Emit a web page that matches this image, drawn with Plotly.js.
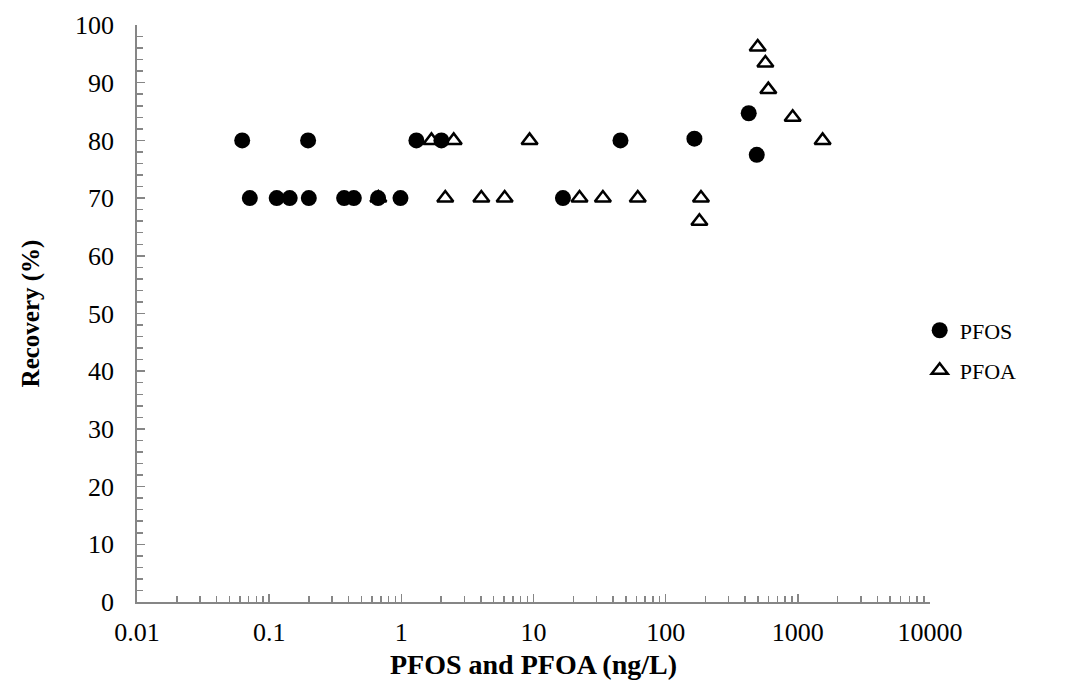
<!DOCTYPE html>
<html>
<head>
<meta charset="utf-8">
<script src="https://cdn.plot.ly/plotly-3.0.1.min.js"></script>
<style>html,body{margin:0;padding:0;background:#fff;}#chart{width:1077px;height:683px;}</style>
</head>
<body>
<div id="chart"></div>
<script>
// PFOS (filled circles)
const pfosConc = [0.0625, 0.197, 1.30, 2.01, 0.0714, 0.114, 0.143, 0.1995, 0.369, 0.437, 0.667, 0.985, 16.7, 45.5, 165, 425, 489];
const pfosRecovery = [80, 80, 80, 80, 70, 70, 70, 70, 70, 70, 70, 70, 70, 80, 80.3, 84.7, 77.5];
// PFOA (open triangles)
const pfoaConc = [1.69, 2.49, 9.34, 0.67, 2.15, 4.03, 6.05, 22.3, 33.5, 61.5, 185, 180, 497, 568, 598, 914, 1540];
const pfoaRecovery = [80, 80, 80, 70, 70, 70, 70, 70, 70, 70, 70, 66, 96.2, 93.4, 88.8, 84.0, 80];
const xTickVals = [0.01, 0.1, 1, 10, 100, 1000, 10000];
const xTickText = ["0.01", "0.1", "1", "10", "100", "1000", "10000"];
const yTickVals = [0, 10, 20, 30, 40, 50, 60, 70, 80, 90, 100];

const axisGray = '#868686';
const serif = '"Liberation Serif", "Times New Roman", serif';

// minor ticks for log axis (2..9 in each decade)
const xMinor = [];
for (let e = -2; e < 4; e++) for (let d = 2; d <= 9; d++) xMinor.push(d * Math.pow(10, e));

const traces = [
  {x: pfosConc, y: pfosRecovery, name: 'PFOS', type: 'scatter', mode: 'markers',
   marker: {symbol: 'circle', size: 16, color: '#000'}, legend: 'legend'},
  {x: pfoaConc, y: pfoaRecovery, name: 'PFOA', type: 'scatter', mode: 'markers',
   marker: {symbol: 'triangle-up-open', size: 14, color: '#000', line: {width: 2.5, color: '#000'}}, legend: 'legend2'}
];

const layout = {
  width: 1077, height: 683,
  margin: {l: 137, r: 147, t: 25, b: 81},
  paper_bgcolor: '#fff', plot_bgcolor: '#fff',
  font: {family: serif, color: '#000', size: 26},
  showlegend: true,
  xaxis: {
    type: 'log', range: [-2, 4],
    tickmode: 'array', tickvals: xTickVals, ticktext: xTickText,
    ticks: 'inside', ticklen: 8, tickwidth: 1.5, tickcolor: axisGray,
    showline: true, linecolor: axisGray, linewidth: 1.8,
    showgrid: false, zeroline: false,
    tickfont: {family: serif, size: 26, color: '#000'},
    ticklabelstandoff: 6,
    minor: {tickmode: 'array', tickvals: xMinor, ticks: 'inside', ticklen: 6, tickwidth: 1.5, tickcolor: axisGray, showgrid: false},
    title: {text: '<b>PFOS and PFOA (ng/L)</b>', font: {family: serif, size: 28, color: '#000'}, standoff: 8}
  },
  yaxis: {
    range: [0, 100],
    tickmode: 'array', tickvals: yTickVals,
    ticks: 'inside', ticklen: 8, tickwidth: 1.5, tickcolor: axisGray,
    showline: true, linecolor: axisGray, linewidth: 1.8,
    showgrid: false, zeroline: false,
    tickfont: {family: serif, size: 26, color: '#000'},
    ticklabelstandoff: 16,
    minor: {dtick: 2, ticks: 'inside', ticklen: 6, tickwidth: 1.5, tickcolor: axisGray, showgrid: false},
    title: {text: '<b>Recovery (%)</b>', font: {family: serif, size: 25, color: '#000'}, standoff: 28}
  },
  legend: {x: 0.987, xanchor: 'left', y: 0.4706, yanchor: 'middle', font: {family: serif, size: 22, color: '#000'},
           bgcolor: 'rgba(0,0,0,0)', borderwidth: 0, itemwidth: 30},
  legend2: {x: 0.987, xanchor: 'left', y: 0.4014, yanchor: 'middle', font: {family: serif, size: 22, color: '#000'},
           bgcolor: 'rgba(0,0,0,0)', borderwidth: 0, itemwidth: 30}
};

Plotly.newPlot('chart', traces, layout, {displayModeBar: false, staticPlot: true});
</script>
</body>
</html>
